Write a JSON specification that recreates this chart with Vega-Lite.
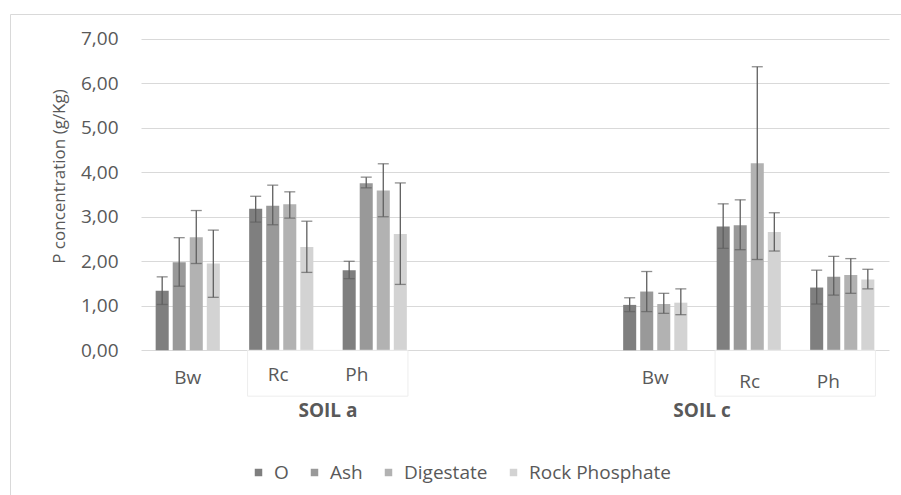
{
  "$schema": "https://vega.github.io/schema/vega-lite/v6.json",
  "width": 891,
  "height": 481,
  "autosize": {"type": "none"},
  "padding": {"left": 10, "top": 14, "right": 0, "bottom": 0},
  "background": "white",
  "config": {
    "font": "Open Sans",
    "view": {"stroke": "#d9d9d9", "strokeWidth": 1},
    "axis": {"labelColor": "#595959", "titleColor": "#595959", "domain": false, "ticks": false, "tickSize": 0}
  },
  "datasets": {
    "bars": [
      {"slot": "a-Bw", "treatment": "O", "mean": 1.34, "lo": 1.03, "hi": 1.65},
      {"slot": "a-Bw", "treatment": "Ash", "mean": 1.98, "lo": 1.44, "hi": 2.53},
      {"slot": "a-Bw", "treatment": "Digestate", "mean": 2.54, "lo": 1.95, "hi": 3.14},
      {"slot": "a-Bw", "treatment": "Rock Phosphate", "mean": 1.95, "lo": 1.19, "hi": 2.70},
      {"slot": "a-Rc", "treatment": "O", "mean": 3.18, "lo": 2.88, "hi": 3.46},
      {"slot": "a-Rc", "treatment": "Ash", "mean": 3.25, "lo": 2.82, "hi": 3.71},
      {"slot": "a-Rc", "treatment": "Digestate", "mean": 3.28, "lo": 2.97, "hi": 3.56},
      {"slot": "a-Rc", "treatment": "Rock Phosphate", "mean": 2.32, "lo": 1.75, "hi": 2.90},
      {"slot": "a-Ph", "treatment": "O", "mean": 1.80, "lo": 1.61, "hi": 2.00},
      {"slot": "a-Ph", "treatment": "Ash", "mean": 3.75, "lo": 3.65, "hi": 3.89},
      {"slot": "a-Ph", "treatment": "Digestate", "mean": 3.59, "lo": 3.00, "hi": 4.19},
      {"slot": "a-Ph", "treatment": "Rock Phosphate", "mean": 2.61, "lo": 1.48, "hi": 3.76},
      {"slot": "c-Bw", "treatment": "O", "mean": 1.02, "lo": 0.87, "hi": 1.18},
      {"slot": "c-Bw", "treatment": "Ash", "mean": 1.32, "lo": 0.87, "hi": 1.77},
      {"slot": "c-Bw", "treatment": "Digestate", "mean": 1.04, "lo": 0.83, "hi": 1.28},
      {"slot": "c-Bw", "treatment": "Rock Phosphate", "mean": 1.07, "lo": 0.80, "hi": 1.38},
      {"slot": "c-Rc", "treatment": "O", "mean": 2.78, "lo": 2.29, "hi": 3.29},
      {"slot": "c-Rc", "treatment": "Ash", "mean": 2.81, "lo": 2.26, "hi": 3.38},
      {"slot": "c-Rc", "treatment": "Digestate", "mean": 4.20, "lo": 2.04, "hi": 6.37},
      {"slot": "c-Rc", "treatment": "Rock Phosphate", "mean": 2.66, "lo": 2.23, "hi": 3.09},
      {"slot": "c-Ph", "treatment": "O", "mean": 1.41, "lo": 1.04, "hi": 1.80},
      {"slot": "c-Ph", "treatment": "Ash", "mean": 1.65, "lo": 1.24, "hi": 2.11},
      {"slot": "c-Ph", "treatment": "Digestate", "mean": 1.69, "lo": 1.28, "hi": 2.06},
      {"slot": "c-Ph", "treatment": "Rock Phosphate", "mean": 1.59, "lo": 1.38, "hi": 1.82}
    ],
    "soils": [
      {"slot": "a-Ph", "soil": "SOIL a"},
      {"slot": "c-Rc", "soil": "SOIL c"}
    ],
    "boxes": [
      {"from": "a-Rc", "to": "a-Ph"},
      {"from": "c-Rc", "to": "c-Ph"}
    ]
  },
  "layer": [
    {
      "data": {"name": "bars"},
      "mark": {"type": "bar"},
      "encoding": {
        "x": {
          "field": "slot",
          "type": "nominal",
          "title": null,
          "scale": {
            "domain": ["a-Bw", "a-Rc", "a-Ph", "gap-1", "gap-2", "c-Bw", "c-Rc", "c-Ph"],
            "range": [131, 879],
            "paddingInner": 0,
            "paddingOuter": 0
          },
          "axis": {
            "title": null,
            "orient": "bottom",
            "offset": -144.7,
            "grid": false,
            "labelFontSize": 19,
            "labelAngle": 0,
            "labelBaseline": "middle",
            "labelOverlap": false,
            "labelExpr": "indexof(datum.value, 'gap') === 0 ? '' : split(datum.value, '-')[1]",
            "labelOffset": {
              "condition": [
                {"test": "datum.value === 'a-Rc'", "value": -3},
                {"test": "datum.value === 'a-Ph'", "value": -18},
                {"test": "datum.value === 'c-Rc'", "value": 1},
                {"test": "datum.value === 'c-Ph'", "value": -14}
              ],
              "value": 0
            },
            "labelPadding": {
              "condition": [
                {"test": "datum.value === 'a-Rc' || datum.value === 'a-Ph'", "value": 24},
                {"test": "datum.value === 'c-Rc' || datum.value === 'c-Ph'", "value": 31}
              ],
              "value": 27
            }
          }
        },
        "xOffset": {
          "field": "treatment",
          "type": "nominal",
          "sort": ["O", "Ash", "Digestate", "Rock Phosphate"],
          "scale": {"paddingInner": 0.235, "paddingOuter": 0.86}
        },
        "y": {
          "field": "mean",
          "type": "quantitative",
          "title": "P concentration (g/Kg)",
          "scale": {"domain": [0, 7], "range": [336.3, 24.7], "nice": false, "zero": true},
          "axis": {
            "title": "P concentration (g/Kg)",
            "titleFontSize": 17,
            "titleFontWeight": "normal",
            "titlePadding": 12,
            "titleY": 162,
            "offset": -131,
            "values": [0, 1, 2, 3, 4, 5, 6, 7],
            "labelExpr": "replace(format(datum.value, '.2f'), '.', ',')",
            "labelFontSize": 19,
            "labelPadding": 23,
            "grid": true,
            "gridColor": "#d9d9d9",
            "gridWidth": 1
          }
        },
        "color": {
          "field": "treatment",
          "type": "nominal",
          "sort": ["O", "Ash", "Digestate", "Rock Phosphate"],
          "scale": {
            "domain": ["O", "Ash", "Digestate", "Rock Phosphate"],
            "range": ["#7f7f7f", "#999999", "#b2b2b2", "#d3d3d3"]
          },
          "legend": {
            "title": null,
            "orient": "none",
            "direction": "horizontal",
            "columns": 4,
            "legendX": 239,
            "legendY": 449,
            "padding": 0,
            "symbolType": "square",
            "symbolSize": 56,
            "symbolStrokeWidth": 0,
            "labelFontSize": 19,
            "labelColor": "#595959",
            "labelOffset": 6,
            "columnPadding": 16,
            "gridAlign": "none"
          }
        }
      }
    },
    {
      "data": {"name": "bars"},
      "mark": {"type": "rule", "color": "#5f5f5f", "strokeWidth": 1.3},
      "encoding": {
        "x": {"field": "slot", "type": "nominal", "title": null},
        "xOffset": {"field": "treatment", "type": "nominal", "sort": ["O", "Ash", "Digestate", "Rock Phosphate"]},
        "y": {"field": "lo", "type": "quantitative", "title": "P concentration (g/Kg)"},
        "y2": {"field": "hi"}
      }
    },
    {
      "data": {"name": "bars"},
      "mark": {"type": "tick", "color": "#5f5f5f", "thickness": 1.3, "size": 11, "orient": "horizontal"},
      "encoding": {
        "x": {"field": "slot", "type": "nominal", "title": null},
        "xOffset": {"field": "treatment", "type": "nominal", "sort": ["O", "Ash", "Digestate", "Rock Phosphate"]},
        "y": {"field": "hi", "type": "quantitative", "title": "P concentration (g/Kg)"}
      }
    },
    {
      "data": {"name": "bars"},
      "mark": {"type": "tick", "color": "#5f5f5f", "thickness": 1.3, "size": 11, "orient": "horizontal"},
      "encoding": {
        "x": {"field": "slot", "type": "nominal", "title": null},
        "xOffset": {"field": "treatment", "type": "nominal", "sort": ["O", "Ash", "Digestate", "Rock Phosphate"]},
        "y": {"field": "lo", "type": "quantitative", "title": "P concentration (g/Kg)"}
      }
    },
    {
      "data": {"name": "boxes"},
      "mark": {"type": "rect", "fill": null, "stroke": "#ededed", "strokeWidth": 1},
      "encoding": {
        "x": {"field": "from", "type": "nominal", "bandPosition": 0.14, "title": null},
        "x2": {"field": "to", "bandPosition": 0.855},
        "y": {"datum": 0, "type": "quantitative", "title": "P concentration (g/Kg)"},
        "y2": {"datum": -1.03}
      }
    },
    {
      "data": {"name": "soils"},
      "mark": {"type": "text", "fontSize": 19, "fontWeight": "bold", "color": "#595959", "baseline": "middle", "align": "center", "dy": 61},
      "encoding": {
        "x": {"field": "slot", "type": "nominal", "bandPosition": 0, "title": null},
        "y": {"datum": 0, "type": "quantitative", "title": "P concentration (g/Kg)"},
        "text": {"field": "soil"}
      }
    }
  ]
}
